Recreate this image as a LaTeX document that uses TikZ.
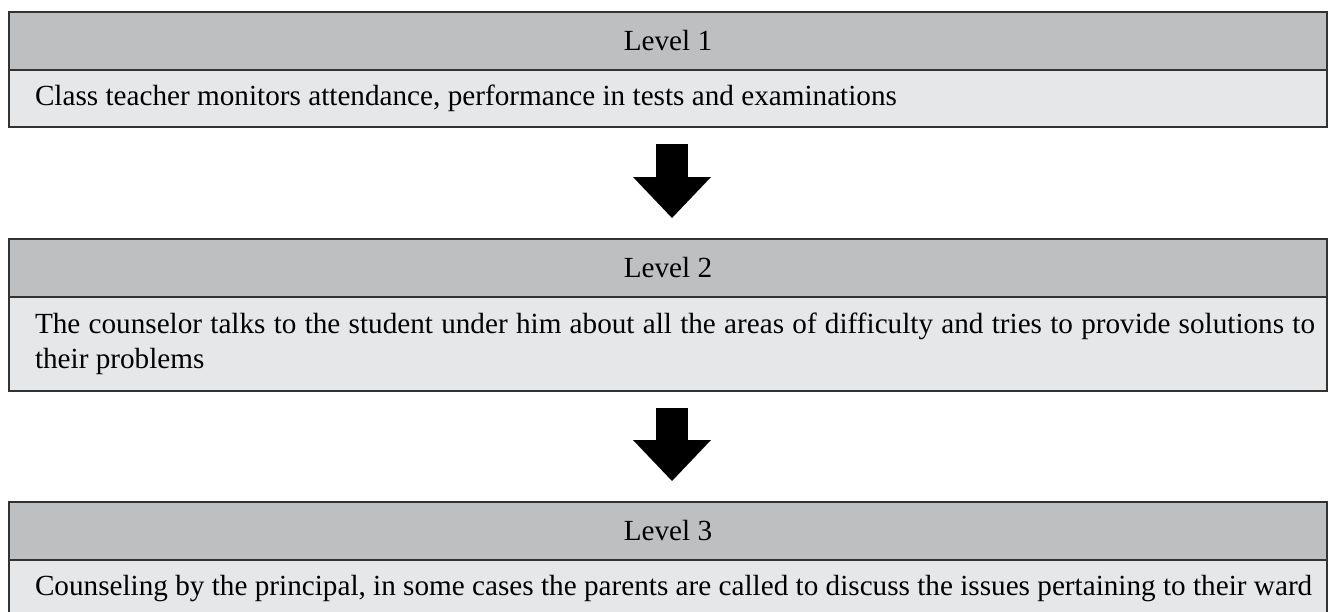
\documentclass[tikz,border=0pt]{standalone}
\usepackage{fontspec}
\setmainfont{Liberation Serif}
\usetikzlibrary{positioning,arrows.meta}
\definecolor{headgray}{HTML}{BEBFC1}
\definecolor{bodygray}{HTML}{E6E7E8}
\definecolor{edgegray}{HTML}{333333}

\begin{document}
\begin{tikzpicture}[x=1pt, y=-1pt, node distance=112pt,
    levelhead/.style={rectangle, draw=edgegray, line width=2pt, fill=headgray, minimum width=1318pt, minimum height=58pt, outer sep=0pt, inner sep=0pt, font=\fontsize{29.2}{35}\selectfont},
    levelbody/.style={rectangle, draw=edgegray, line width=2pt, fill=bodygray, minimum width=1318pt, outer sep=0pt, inner xsep=19pt, inner ysep=0pt, text width=1280pt, align=justify, font=\fontsize{29.2}{35}\selectfont,
        execute at begin node={\leftskip=7pt\rightskip=-7pt}},
    bigarrow/.style={line width=32pt, -{Triangle[width=78pt,length=41pt,line width=0pt]}, shorten <=17pt, shorten >=21pt}]
    \useasboundingbox (0,0) rectangle (1328,611);

    % Level 1
    \node[levelhead, anchor=north west] (h1) at (9,12) {Level 1};
    \node[levelbody, anchor=north, minimum height=57pt] (b1) at (h1.south) {Class teacher monitors attendance, performance in tests and examinations};

    % Level 2
    \node[levelhead, below=of b1] (h2) {Level 2};
    \node[levelbody, anchor=north, minimum height=94pt] (b2) at (h2.south) {The counselor talks to the student under him about all the areas of difficulty and tries to provide solutions to their problems};

    % Level 3
    \node[levelhead, below=111pt of b2] (h3) {Level 3};
    \node[levelbody, anchor=north, minimum height=57pt] (b3) at (h3.south) {Counseling by the principal, in some cases the parents are called to discuss the issues pertaining to their ward};

    % Block arrows between the levels
    \coordinate (ax) at (672,0);
    \draw[bigarrow] (b1.south -| ax) -- (h2.north -| ax);
    \draw[bigarrow] (b2.south -| ax) -- (h3.north -| ax);
\end{tikzpicture}
\end{document}
